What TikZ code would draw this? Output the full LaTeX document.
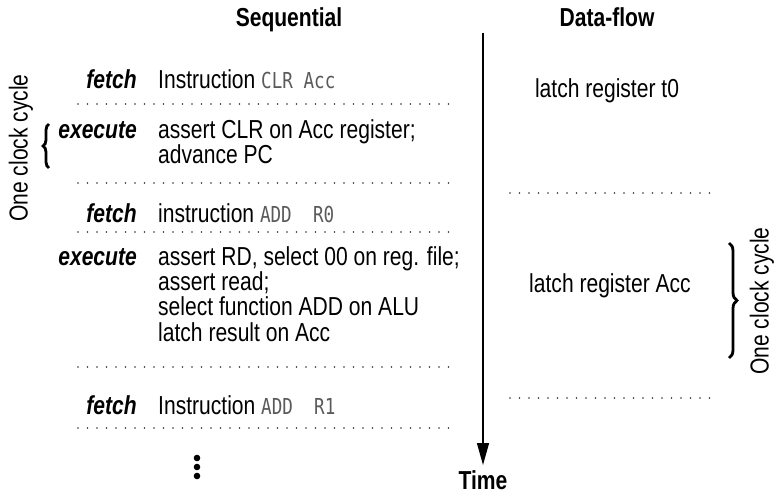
\documentclass[tikz,border=0pt]{standalone}
\usepackage{fontspec}
\setmainfont{Liberation Sans}[FakeStretch=0.81]
\newfontfamily\regfont{DejaVu Sans Mono}[FakeStretch=0.8]
\usepackage{tikz}
\usetikzlibrary{arrows.meta,positioning,decorations.pathreplacing}
\definecolor{regtext}{HTML}{5A5A5A}
\definecolor{seprule}{HTML}{303030}
\newcommand{\reg}[1]{{\regfont\fontsize{22}{24}\selectfont\color{regtext}#1}}

\begin{document}
\begin{tikzpicture}[x=1pt,y=-1pt,
  every node/.style={inner sep=0pt, font=\fontsize{26}{28}\selectfont},
  head/.style={anchor=base, font=\fontsize{26}{28}\selectfont\bfseries},
  phase/.style={anchor=base east, font=\fontsize{26}{28}\selectfont\bfseries\itshape},
  txt/.style={anchor=base west},
  sep/.style={draw=seprule, line width=1.8pt, line cap=round, dash pattern=on 0pt off 9.5pt},
  cyc/.style={rotate=90, anchor=center},
  bracemark/.style={draw, line width=2.8pt, decorate}]
  \useasboundingbox (0,0) rectangle (774,494);

  % column headings
  \node[head] (seq) at (289,27) {Sequential};
  \node[head] (flow) at (607,27) {Data-flow};

  % time axis
  \coordinate (tA) at (483,33);
  \coordinate (tB) at (483,465);
  \draw[line width=1.3pt, -{Triangle[length=22pt,width=12pt]}] (tA) -- (tB);
  \node[head] (time) at (483,489) {Time};

  % sequential side
  \node[phase] (f1) at (137,89) {fetch};
  \node[txt] (f1t) at (158,89) {Instruction \reg{CLR Acc}};
  \node[phase] (e1) at (137,139) {execute};
  \node[txt] (e1a) at (158,139) {assert CLR on Acc register;};
  \node[txt] (e1b) at (158,164) {advance PC};
  \node[phase] (f2) at (137,223) {fetch};
  \node[txt] (f2t) at (158,223) {instruction \reg{ADD~~R0}};
  \node[phase] (e2) at (137,266) {execute};
  \node[txt] (e2a) at (158,266) {assert RD, select 00 on reg. file;};
  \node[txt] (e2b) at (158,291) {assert read;};
  \node[txt] (e2c) at (158,316) {select function ADD on ALU};
  \node[txt] (e2d) at (158,342) {latch result on Acc};
  \node[phase] (f3) at (137,414) {fetch};
  \node[txt] (f3t) at (158,414) {Instruction \reg{ADD~~R1}};
  \foreach \y in {104,183,232,367,428}
    {\draw[sep] (78,\y) -- (452,\y);}
  \foreach \y in {458,467,476}
    {\fill (197,\y) circle (3.3);}

  % data-flow side
  \node[anchor=base] (l1) at (607,98) {latch register t0};
  \node[anchor=base] (l2) at (610,293) {latch register Acc};
  \foreach \y in {193,398}
    {\draw[sep] (510,\y) -- (718,\y);}

  % clock cycle marks
  \draw[bracemark, decoration={brace, amplitude=6pt}] (49,168) -- (49,124);
  \node[cyc] (cyc1) at (21,148) {One clock cycle};
  \draw[bracemark, decoration={brace, amplitude=8pt}] (729,243) -- (729,358);
  \node[cyc] (cyc2) at (762,301) {One clock cycle};
\end{tikzpicture}
\end{document}
